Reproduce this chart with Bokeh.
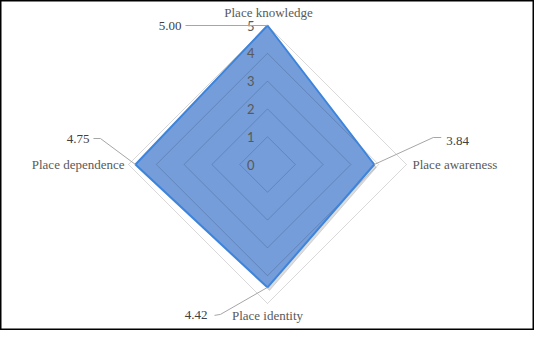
import math
from bokeh.plotting import figure
from bokeh.models import Range1d, ColumnDataSource
from bokeh.core.properties import value
from bokeh.embed import file_html
from bokeh.resources import INLINE

categories = ["Place knowledge", "Place awareness", "Place identity", "Place dependence"]
values = [5.00, 3.84, 4.42, 4.75]
value_labels = ["5.00", "3.84", "4.42", "4.75"]
ticks = [0, 1, 2, 3, 4, 5]
tick_labels = ["0", "1", "2", "3", "4", "5"]
r_max = 5

W, H = 534, 330
S = 27.8  # pixels per unit
cx_px, cy_px = 267, 164

p = figure(width=W, height=H, output_backend="svg", toolbar_location=None,
           x_range=Range1d(-cx_px / S, (W - cx_px) / S),
           y_range=Range1d(-(H - cy_px) / S, cy_px / S),
           min_border=0)
p.xaxis.visible = False
p.yaxis.visible = False
p.xgrid.visible = False
p.ygrid.visible = False
p.outline_line_color = "black"
p.outline_line_width = 2
p.background_fill_color = "white"
p.border_fill_color = "white"

n = len(categories)
angles = [math.pi / 2 - 2 * math.pi * i / n for i in range(n)]

def pt(r, a):
    return r * math.cos(a), r * math.sin(a)

# shadow
sx = [pt(v, a)[0] + 2 / S for v, a in zip(values, angles)]
sy = [pt(v, a)[1] - 3 / S for v, a in zip(values, angles)]
p.patch(sx, sy, fill_color="#9a9a9a", fill_alpha=0.35, line_color="#bbbbbb", line_alpha=0.5, line_width=1)

# data fill (opaque)
dx = [pt(v, a)[0] for v, a in zip(values, angles)]
dy = [pt(v, a)[1] for v, a in zip(values, angles)]
p.patch(dx, dy, fill_color="#749dda", line_color=None)

# grid rings drawn on top, translucent
ring_xs, ring_ys = [], []
for t in ticks[1:]:
    xs = [pt(t, a)[0] for a in angles] + [pt(t, angles[0])[0]]
    ys = [pt(t, a)[1] for a in angles] + [pt(t, angles[0])[1]]
    ring_xs.append(xs)
    ring_ys.append(ys)
p.multi_line(ring_xs, ring_ys, line_color="black", line_alpha=0.15, line_width=1)

# data edge
p.patch(dx, dy, fill_color=None, line_color="#3d84dc", line_width=2)

# tick labels
p.text(x=[0] * len(ticks), y=ticks, text=tick_labels, x_offset=-13,
       text_align="right", text_baseline="middle",
       text_font=value("Lato"), text_font_size="13px", text_color="#595959")

# category labels
cat_off = [(1, -13, "center"), (6, 0, "left"), (0, 12, "center"), (-4, 0, "right")]
for c, a, (ox, oy, al) in zip(categories, angles, cat_off):
    x0, y0 = pt(r_max, a)
    p.text(x=[x0], y=[y0], text=[c], x_offset=ox, y_offset=oy, text_align=al,
           text_baseline="middle", text_font=value("Liberation Serif"),
           text_font_size="13px", text_color="#595959")

# value callouts: leader offsets (px) and text offsets
leaders = [[(0, 0), (-82, 0)],
           [(0, 0), (59, -27), (67, -27)],
           [(0, 0), (-47, 27), (-53, 28)],
           [(0, 0), (-35, -26), (-42, -26)]]
txt_off = [(-86, 0, "right"), (72, -24, "left"), (-60, 28, "right"), (-46, -26, "right")]
for v, a, lab, ld, (ox, oy, al) in zip(values, angles, value_labels, leaders, txt_off):
    vx, vy = pt(v, a)
    lx = [vx + q[0] / S for q in ld]
    ly = [vy - q[1] / S for q in ld]
    p.line(lx, ly, line_color="#a6a6a6", line_width=1)
    p.text(x=[vx], y=[vy], text=[lab], x_offset=ox, y_offset=oy, text_align=al,
           text_baseline="middle", text_font=value("Liberation Serif"),
           text_font_size="13px", text_color="#404040")

open("out.html", "w").write(file_html(p, INLINE))
